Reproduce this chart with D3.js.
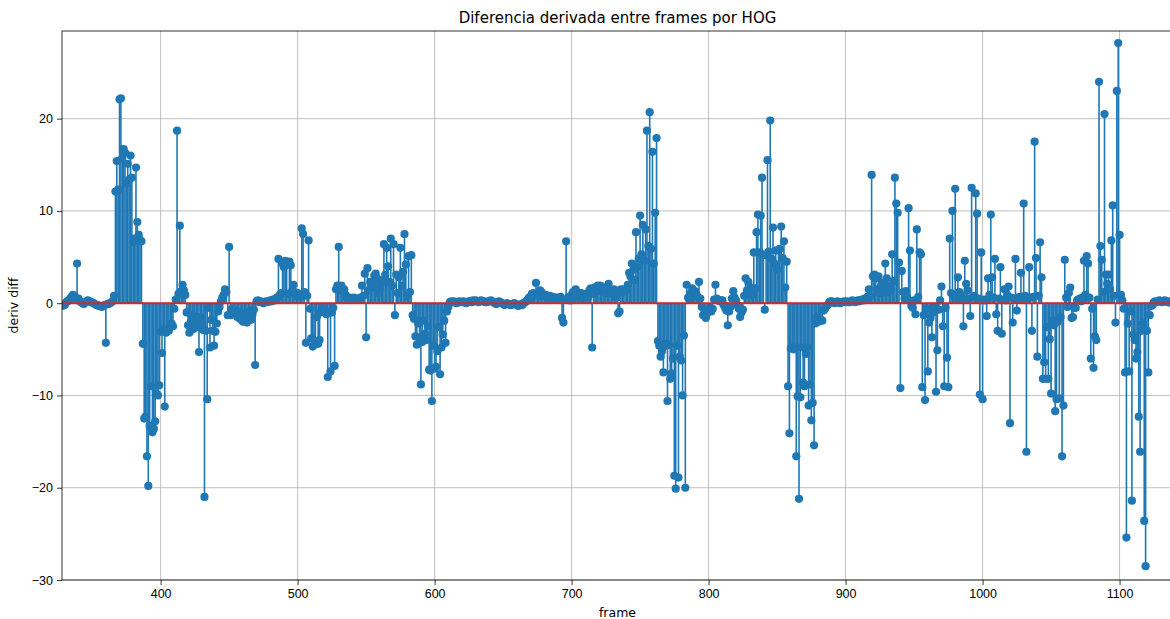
<!DOCTYPE html>
<html lang="es">
<head>
<meta charset="UTF-8">
<title>Diferencia derivada entre frames por HOG</title>
<script src="https://d3js.org/d3.v7.min.js"></script>
<style>
  body { margin: 0; background: #fff; }
  svg { display: block; font-family: "DejaVu Sans", sans-serif; }
  .grid line { stroke: #b0b0b0; stroke-width: 0.8px; }
  .axis path, .axis line { stroke: #000; stroke-width: 0.8px; }
  .axis text { font-size: 12.5px; fill: #000; }
</style>
</head>
<body>
<div id="chart"></div>
<script>
// frame of the first value, one value per frame after it
const firstFrame = 328;

const derivDiff = [
  -0.3, -0.2,
  -0.2, 0.1, 0.2, 0.3, 0.5, 0.7, 0.9, 0.8, 0.6, 4.3,          // 330
  0.5, 0.2, 0.1, 0.0, -0.1, 0.1, 0.2, 0.3, 0.2, 0.1,          // 340
  0.1, 0.0, -0.1, -0.2, -0.2, -0.3, -0.3, -0.4, -0.3, -0.2,   // 350
  -4.3, -0.1, -0.1, 0.0, 0.1, 0.2, 0.8, 12.1, 15.4, 12.3,     // 360
  22.1, 22.2, 15.7, 16.7, 16.3, 13.0, 15.1, 13.4, 16.0, 13.6, // 370
  6.6, 7.0, 14.7, 8.8, 7.4, 6.8, 6.7, -4.4, -12.5, -12.3,     // 380
  -16.6, -19.8, -13.3, -9.0, -14.0, -13.6, -12.8, -9.8, -10.0, -8.9, // 390
  -3.1, -5.4, -2.8, -11.2, -3.2, -2.9, -3.0, -2.6, -2.2, -2.5, // 400
  -0.6, 0.4, 18.7, 1.0, 8.4, 1.3, 2.0, 1.4, 0.9, -1.0,        // 410
  -2.4, -3.2, -2.1, -1.3, -2.8, -1.9, -2.5, -2.6, -5.3, -1.5, // 420
  -2.3, -2.9, -21.0, -3.0, -10.4, -0.5, -4.8, -1.8, -3.0, -4.6, // 430
  -3.1, -2.2, -0.9, -0.4, 0.2, 0.6, 0.9, 1.5, 1.2, -1.3,      // 440
  6.1, -1.3, -0.6, -0.9, -1.2, -0.8, -1.5, -1.0, -1.7, -1.3,  // 450
  -2.0, -1.1, -1.6, -2.1, -1.4, -0.9, -1.8, -1.2, -0.7, -6.7, // 460
  0.2, 0.3, 0.1, 0.2, 0.1, 0.0, 0.1, 0.2, 0.1, 0.2,           // 470
  0.3, 0.2, 0.4, 0.3, 0.5, 0.6, 4.8, 0.9, 1.1, 4.3,           // 480
  3.9, 4.6, 4.4, 1.0, 4.5, 4.1, 1.3, 2.0, 1.2, 0.8,           // 490
  1.1, 0.9, 0.7, 8.1, 7.5, 1.2, -4.3, 0.8, 6.8, -0.6,         // 500
  -3.8, -4.7, -4.5, -4.2, -1.5, -4.4, -4.0, -1.0, -0.5, -0.9, // 510
  -0.8, -1.2, -8.0, -0.9, -7.4, -1.0, -0.5, -6.8, 1.5, 1.9,   // 520
  6.1, 1.4, 1.9, 1.3, 1.5, 0.9, 0.6, 0.5, 0.6, 0.5,           // 530
  0.5, 0.6, 0.5, 0.5, 0.4, 0.5, 0.6, 1.9, 0.8, 3.2,           // 540
  -3.7, 3.8, 1.4, 2.3, 1.7, 2.0, 3.0, 3.2, 2.7, 1.1,          // 550
  1.6, 2.2, 2.5, 6.4, 3.1, 6.0, 4.0, 2.3, 7.0, 1.9,           // 560
  6.4, -1.3, 3.1, 1.1, 2.8, 6.0, 1.9, 3.4, 7.5, 4.2,          // 570
  0.8, 5.1, 1.2, 5.2, -1.3, -1.7, -3.6, -4.5, -2.2, -3.8,     // 580
  -8.8, -4.2, -1.9, -3.3, -4.0, -2.5, -7.2, -7.3, -10.6, -4.6, // 590
  -7.1, -6.9, -5.2, -2.6, -7.7, -4.8, -3.4, -1.9, -4.3, -0.9, // 600
  -0.4, 0.1, 0.2, 0.1, 0.2, 0.1, 0.0, 0.1, 0.2, 0.1,          // 610
  0.1, 0.2, 0.1, 0.0, 0.1, 0.2, 0.2, 0.1, 0.3, 0.2,           // 620
  0.3, 0.2, 0.1, 0.2, 0.3, 0.2, 0.2, 0.1, 0.1, 0.2,           // 630
  0.2, 0.3, 0.2, 0.1, 0.0, -0.1, 0.1, 0.2, 0.1, 0.0,          // 640
  -0.1, -0.2, -0.1, 0.0, -0.1, -0.2, -0.2, -0.1, 0.0, -0.1,   // 650
  -0.2, -0.3, -0.2, -0.1, -0.2, 0.0, 0.1, 0.2, 0.4, 0.6,      // 660
  0.5, 1.0, 1.1, 0.9, 2.2, 1.0, 0.8, 1.4, 1.2, 0.9,           // 670
  0.8, 0.9, 0.6, 0.5, 0.8, 0.6, 0.7, 0.5, 0.6, 0.4,           // 680
  0.6, 0.5, 0.7, -1.6, -2.1, 0.4, 6.7, 0.4, 0.7, 0.3,         // 690
  0.9, 1.2, 0.8, 1.5, 1.1, 0.6, 0.9, 1.1, 0.8, 0.6,           // 700
  1.0, 0.8, 0.6, 1.4, 1.6, -4.8, 1.0, 1.7, 1.5, 1.9,          // 710
  1.3, 1.9, 1.6, 1.5, 1.5, 1.1, 1.8, 2.1, 1.1, 1.1,           // 720
  1.1, 1.5, 0.9, 0.6, -1.1, -0.9, 1.5, 1.2, 1.5, 1.3,         // 730
  1.4, 2.0, 3.3, 2.9, 4.3, 3.6, 2.5, 7.7, 3.9, 4.8,           // 740
  9.5, 5.3, 8.5, 4.6, 8.0, 18.7, 6.2, 20.7, 5.9, 16.4,        // 750
  4.3, 9.8, 17.9, -4.1, -4.6, -5.8, -5.2, -7.5, -4.4, -4.6,   // 760
  -10.6, -4.5, -8.2, -7.6, -6.0, -18.7, -20.1, -4.6, -18.9, -5.8, // 770
  -6.2, -10.0, -3.5, -20.0, 2.0, 0.6, 0.4, 1.1, 1.6, 0.8,     // 780
  1.3, 0.9, 0.7, 2.3, 0.5, -0.4, -1.3, -0.8, -1.6, -1.1,      // 790
  -0.8, -0.5, -0.9, -0.6, 0.4, 2.0, 0.5, 0.3, 0.2, 0.3,       // 800
  0.3, -0.2, -0.5, -0.8, -2.4, -0.9, -0.4, 0.5, 1.3, 0.6,     // 810
  0.3, -0.2, -0.6, -1.5, -1.0, -0.7, 0.8, 2.7, 1.4, 2.3,      // 820
  1.2, 1.7, 0.9, 5.5, 1.6, 7.7, 9.6, 5.5, 9.5, 13.6,          // 830
  5.3, -0.7, 5.2, 15.5, 5.6, 19.8, 4.8, 8.2, 4.3, 5.7,        // 840
  3.6, 5.8, 5.9, 8.3, 4.9, 6.7, 1.7, 4.5, -9.0, -14.1,        // 850
  -4.9, -4.8, -5.0, -4.8, -16.6, -10.1, -21.2, -10.2, -4.8, -8.6, // 860
  -9.0, -5.5, -4.8, -11.1, -8.8, -12.7, -10.8, -15.4, -2.2, -1.6, // 870
  -2.0, -1.9, -1.8, -1.9, -0.8, -0.6, -0.3, -0.2, 0.1, 0.2,   // 880
  0.2, 0.1, 0.0, 0.1, 0.2, 0.1, 0.0, 0.1, 0.1, 0.2,           // 890
  0.1, 0.2, 0.1, 0.1, 0.2, 0.3, 0.2, 0.1, 0.2, 0.3,           // 900
  0.2, 0.3, 0.4, 0.3, 0.5, 0.4, 0.7, 1.5, 0.8, 13.9,          // 910
  2.9, 3.1, 2.7, 1.5, 2.9, 1.1, 1.9, 2.2, 1.2, 4.3,           // 920
  2.7, 1.2, 1.9, 1.4, 5.3, 2.4, 13.6, 10.8, 9.8, 4.4,         // 930
  -9.2, 3.5, 1.2, 0.5, 1.3, 0.6, 10.3, 5.7, -0.3, -0.5,       // 940
  0.3, -1.2, 8.0, 0.7, 5.5, 5.3, -9.1, -1.3, -10.5, -0.6,     // 950
  -7.4, -2.1, -1.6, -3.7, -1.0, -0.4, -9.6, -5.1, -0.7, 0.3,  // 960
  1.8, -2.5, -9.0, -0.5, -5.9, -9.1, 7.0, 1.1, 10.0, 0.8,     // 970
  12.4, 0.6, 2.8, 1.2, 0.9, 0.4, -2.5, 4.6, 2.1, 1.4,         // 980
  0.5, -1.4, 12.5, 0.7, 0.8, 11.9, 9.7, 0.5, -9.9, 5.5,       // 990
  -10.4, 0.4, 0.3, -1.4, 2.7, 0.9, 9.6, 2.8, 0.6, 4.8,        // 1000
  -1.2, -3.0, 0.5, 3.9, -3.3, 0.4, 1.5, 0.3, 0.9, 1.8,        // 1010
  -13.0, 0.6, -2.1, 0.5, 4.8, -0.8, 0.4, 0.7, 3.3, 0.6,       // 1020
  10.8, 0.8, -16.1, 0.5, 3.9, 0.6, -3.0, 0.7, 17.5, 4.9,      // 1030
  -5.8, 0.8, 6.6, 2.8, -8.2, -6.4, -8.2, -2.6, -8.2, -3.9,    // 1040
  -9.8, -1.9, -2.4, -11.7, -10.4, -2.0, -10.3, -1.5, -16.6, -11.1, // 1050
  4.7, 0.6, -0.4, 1.1, 1.7, -1.6, -1.5, -0.5, -0.5, 0.3,      // 1060
  0.4, 0.5, 0.2, 0.6, 4.6, 0.9, 5.1, 4.3, 0.6, -6.0,          // 1070
  -0.6, -7.0, -3.6, -4.0, 0.4, 24.0, 6.2, 4.7, 1.2, 20.5,     // 1080
  3.1, 2.1, 3.1, 1.5, 6.8, 10.6, 0.8, -2.1, 23.0, 28.2,       // 1090
  7.4, 0.9, 0.3, -0.6, -7.5, -25.4, -2.2, -7.4, -0.9, -21.4,  // 1100
  -3.4, -4.0, -6.0, -5.3, -12.3, -16.1, -3.0, -2.2, -23.6, -28.5, // 1110
  -3.0, -7.5, -1.3, -0.3, -0.2, 0.1, 0.2, 0.1, 0.2, 0.3,      // 1120
  0.2, 0.1, 0.2, 0.3, 0.2, 0.1, 0.2, 0.1, 0.0, -0.1           // 1130
];

const xTicks = [400, 500, 600, 700, 800, 900, 1000, 1100];
const yTicks = [-30, -20, -10, 0, 10, 20];

const width = 1170, height = 619;
const plot = { left: 62, top: 31, right: 1173, bottom: 580 };

const points = derivDiff.map((v, i) => ({ frame: firstFrame + i, value: v }));

const x = d3.scaleLinear()
    .domain([firstFrame, firstFrame + derivDiff.length - 1])
    .range([plot.left, plot.right]);
const y = d3.scaleLinear()
    .domain([-30, 29.5])
    .range([plot.bottom, plot.top]);

const svg = d3.select("#chart").append("svg")
    .attr("width", width)
    .attr("height", height);

svg.append("defs").append("clipPath")
    .attr("id", "plot-clip")
  .append("rect")
    .attr("x", plot.left)
    .attr("y", plot.top)
    .attr("width", plot.right - plot.left)
    .attr("height", plot.bottom - plot.top);

// grid
const grid = svg.append("g").attr("class", "grid");
grid.selectAll("line.vx")
    .data(xTicks)
    .join("line")
    .attr("class", "vx")
    .attr("x1", d => x(d)).attr("x2", d => x(d))
    .attr("y1", plot.top).attr("y2", plot.bottom);
grid.selectAll("line.hy")
    .data(yTicks)
    .join("line")
    .attr("class", "hy")
    .attr("x1", plot.left).attr("x2", plot.right)
    .attr("y1", d => y(d)).attr("y2", d => y(d));

const marks = svg.append("g").attr("clip-path", "url(#plot-clip)");

// stems
marks.append("g")
    .selectAll("line")
    .data(points)
    .join("line")
    .attr("x1", d => x(d.frame)).attr("x2", d => x(d.frame))
    .attr("y1", y(0)).attr("y2", d => y(d.value))
    .attr("stroke", "#1f77b4")
    .attr("stroke-width", 1.6);

// markers
marks.append("g")
    .selectAll("circle")
    .data(points)
    .join("circle")
    .attr("cx", d => x(d.frame))
    .attr("cy", d => y(d.value))
    .attr("r", 4.1)
    .attr("fill", "#1f77b4");

// baseline
marks.append("line")
    .attr("x1", plot.left).attr("x2", plot.right)
    .attr("y1", y(0)).attr("y2", y(0))
    .attr("stroke", "#d62728")
    .attr("stroke-width", 2);

// axes
svg.append("g")
    .attr("class", "axis")
    .attr("transform", `translate(0,${plot.bottom})`)
    .call(d3.axisBottom(x).tickValues(xTicks).tickSize(5).tickPadding(4).tickFormat(d3.format("d")))
    .call(g => g.select(".domain").remove());
svg.append("g")
    .attr("class", "axis")
    .attr("transform", `translate(${plot.left},0)`)
    .call(d3.axisLeft(y).tickValues(yTicks).tickSize(5).tickPadding(4).tickFormat(d => d < 0 ? "\u2212" + Math.abs(d) : d))
    .call(g => g.select(".domain").remove());

// frame (spines)
svg.append("rect")
    .attr("x", plot.left).attr("y", plot.top)
    .attr("width", plot.right - plot.left)
    .attr("height", plot.bottom - plot.top)
    .attr("fill", "none")
    .attr("stroke", "#000")
    .attr("stroke-width", 0.8);

svg.append("text")
    .attr("x", (plot.left + plot.right) / 2)
    .attr("y", 23)
    .attr("text-anchor", "middle")
    .attr("font-size", 15)
    .text("Diferencia derivada entre frames por HOG");

svg.append("text")
    .attr("x", (plot.left + plot.right) / 2)
    .attr("y", 617)
    .attr("text-anchor", "middle")
    .attr("font-size", 12.5)
    .text("frame");

svg.append("text")
    .attr("transform", `translate(18,${(plot.top + plot.bottom) / 2}) rotate(-90)`)
    .attr("text-anchor", "middle")
    .attr("font-size", 12.5)
    .text("deriv diff");
</script>
</body>
</html>
